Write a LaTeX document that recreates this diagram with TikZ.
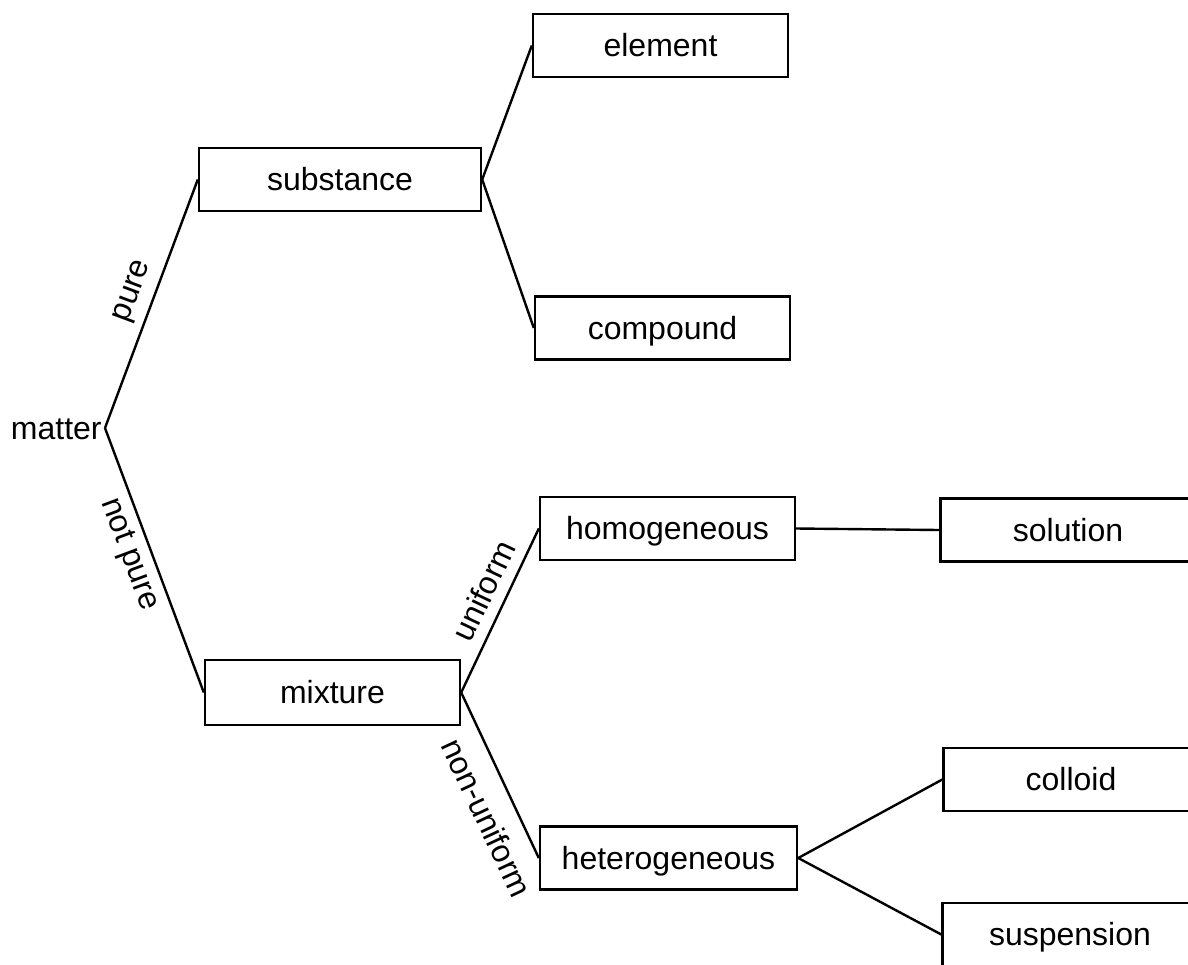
\documentclass[tikz,border=0pt]{standalone}
\usepackage{fontspec}
\setmainfont{Liberation Sans}
\begin{document}
\begin{tikzpicture}[x=0.5pt,y=-0.5pt,
  every node/.style={font=\fontsize{16}{19}\selectfont},
  box/.style={draw, line width=1.2pt, minimum width=127.5pt, minimum height=31.5pt,
    inner sep=0pt, text height=11pt, text depth=0pt},
  conn/.style={line width=1.2pt},
  lab/.style={sloped, inner sep=0pt, text height=11pt, text depth=3pt}]
\useasboundingbox (0,0) rectangle (1188,964);
% nodes
\node[anchor=east, inner sep=1.5pt, text height=11pt, text depth=0pt] (matter) at (105,428) {matter};
\node[box, minimum width=141pt] (substance) at (340,179.5) {substance};
\node[box] (element) at (660.5,45.5) {element};
\node[box] (compound) at (662.5,328) {compound};
\node[box, minimum height=32.5pt] (mixture) at (332.5,692.5) {mixture};
\node[box] (homogeneous) at (667.5,528.5) {homogeneous};
\node[box] (solution) at (1068,530) {solution};
\node[box, minimum width=128.5pt] (heterogeneous) at (668.5,858) {heterogeneous};
\node[box] (colloid) at (1071,779.5) {colloid};
\node[box] (suspension) at (1070,934.5) {suspension};
% connectors
\draw[conn] (matter.east) -- node[lab, pos=0.52, above=4pt] {pure} (substance.west);
\draw[conn] (matter.east) -- node[lab, pos=0.45, below=3pt] {not\ pure} (mixture.west);
\draw[conn] (substance.east) -- (element.west);
\draw[conn] (substance.east) -- (compound.west);
\draw[conn] (mixture.east) -- node[lab, pos=0.56, above=2.5pt] {uniform} (homogeneous.west);
\draw[conn] (mixture.east) -- node[lab, pos=0.68, below=9pt] {non-uniform} (heterogeneous.west);
\draw[conn] (homogeneous.east) -- (solution.west);
\draw[conn] (heterogeneous.east) -- (colloid.west);
\draw[conn] (heterogeneous.east) -- (suspension.west);
\end{tikzpicture}
\end{document}
